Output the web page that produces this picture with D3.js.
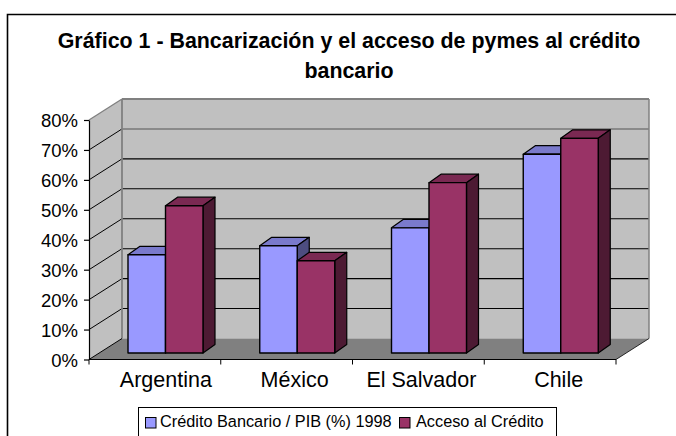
<!DOCTYPE html>
<html><head><meta charset="utf-8">
<style>html,body{margin:0;padding:0;background:#fff;overflow:hidden}svg{display:block}text{font-family:"Liberation Sans",Arial,sans-serif;fill:#000}</style>
<script src="https://cdn.jsdelivr.net/npm/d3@7"></script></head><body>
<svg id="c" width="676" height="436"></svg>
<script>
const titleLines = ["Gráfico 1 - Bancarización y el acceso de pymes al crédito", "bancario"];
const categories = ["Argentina", "México", "El Salvador", "Chile"];
const seriesNames = ["Crédito Bancario / PIB (%) 1998", "Acceso al Crédito"];
const creditoBancario = [32.8, 35.8, 41.8, 66.4];
const accesoCredito = [49.2, 30.8, 56.9, 71.7];
const yTicks = [0, 10, 20, 30, 40, 50, 60, 70, 80];
const colorsFront = ["#9999ff", "#993366"];
const colorsTop = ["#7a7acc", "#7a2952"];
const colorsSide = ["#4d4d80", "#4d1a33"];

const svg = d3.select("#c");
const X0 = 89, X1 = 616, Y0 = 359.5, Y80 = 120;
const wallDx = 33, wallDy = -21;
const barDx = 12, barDy = -8.5, barBaseDy = -6.5;
const labelNudge = [11, 8, 3, 8.5];

const x = d3.scaleBand().domain(categories).range([X0, X1]).paddingInner(0).paddingOuter(0);
const inner = d3.scaleBand().domain([0, 1]).range([39, 114]);
const y = d3.scaleLinear().domain([0, 80]).range([Y0, Y80]);
const poly = (pts, fill, stroke, sw) => svg.append("polygon")
  .attr("points", pts.map(p => p.join(",")).join(" "))
  .attr("fill", fill).attr("stroke", stroke || "none").attr("stroke-width", sw || 0).attr("stroke-linejoin", "round");
const line = (x1, y1, x2, y2, c, w) => svg.append("line").attr("x1", x1).attr("y1", y1).attr("x2", x2).attr("y2", y2).attr("stroke", c).attr("stroke-width", w);

// outer frame (runs off the right and bottom of the image)
svg.append("path").attr("d", "M7.5,436V14.5H676").attr("fill", "none").attr("stroke", "#000").attr("stroke-width", 1.6);

// title
svg.append("g").selectAll("text").data(titleLines).join("text")
  .attr("x", 349).attr("y", (d, i) => 47.5 + i * 30.5)
  .attr("text-anchor", "middle").attr("font-weight", "bold").attr("font-size", 21.4)
  .text(d => d);

// walls and floor
poly([[X0 + wallDx, y(80) + wallDy], [X1 + wallDx, y(80) + wallDy], [X1 + wallDx, y(0) + wallDy], [X0 + wallDx, y(0) + wallDy]], "#c0c0c0");
poly([[X0, y(80)], [X0 + wallDx, y(80) + wallDy], [X0 + wallDx, y(0) + wallDy], [X0, y(0)]], "#c0c0c0");
poly([[X0, y(0)], [X0 + wallDx, y(0) + wallDy], [X1 + wallDx, y(0) + wallDy], [X1, y(0)]], "#808080");

// gridlines
yTicks.slice(1, -1).forEach(t => {
  const c = t === 70 ? "#555" : "#000";
  line(X0 + wallDx, y(t) + wallDy, X1 + wallDx, y(t) + wallDy, c, 1.1);
  line(X0, y(t), X0 + wallDx, y(t) + wallDy, "#000", 1);
});
line(X0 + wallDx, y(80) + wallDy, X1 + wallDx, y(80) + wallDy, "#808080", 1.8);
line(X0, y(80), X0 + wallDx, y(80) + wallDy, "#808080", 1.3);
line(X0 + wallDx, y(80) + wallDy, X0 + wallDx, y(0) + wallDy, "#808080", 1.8);
line(X1 + wallDx, y(80) + wallDy, X1 + wallDx, y(0) + wallDy, "#808080", 1.5);
line(X0, y(0), X0 + wallDx, y(0) + wallDy, "#000", 1);
line(X1, y(0), X1 + wallDx, y(0) + wallDy, "#000", 0.8);

// bars
const series = [creditoBancario, accesoCredito];
categories.forEach((cat, ci) => {
  series.forEach((vals, si) => {
    const l = x(cat) + inner(si), r = l + inner.bandwidth();
    const b = y(0) + barBaseDy, t = y(vals[ci]) + barBaseDy;
    poly([[l, t], [l + barDx, t + barDy], [r + barDx, t + barDy], [r, t]], colorsTop[si], "#000", 1.2);
    poly([[r, t], [r + barDx, t + barDy], [r + barDx, b + barDy], [r, b]], colorsSide[si], "#000", 1.2);
    poly([[l, t], [r, t], [r, b], [l, b]], colorsFront[si], "#000", 1.4);
  });
});

// axes
const axL = svg.append("g").attr("transform", `translate(${X0},0)`)
  .call(d3.axisLeft(y).tickValues(yTicks).tickFormat(d => d + "%").tickSize(5).tickSizeOuter(0).tickPadding(6));
axL.selectAll("text").attr("font-size", 18.5).style("font-family", '"Liberation Sans",Arial,sans-serif').attr("dy", "0.36em");
axL.selectAll("line,path").attr("stroke", "#000").attr("stroke-width", 1.2);

const axB = svg.append("g").attr("transform", `translate(0,${Y0})`)
  .call(d3.axisBottom(x).tickSize(0).tickPadding(12));
axB.selectAll("text").attr("font-size", 21.5).attr("dx", (d, i) => labelNudge[i]).style("font-family", '"Liberation Sans",Arial,sans-serif').attr("dy", "0.71em");
axB.select("path").attr("stroke", "#000").attr("stroke-width", 1.2).attr("d", `M${X0},0H${X1}`);
[...categories.map(c => x(c)), X1].forEach(p => line(p, Y0, p, Y0 + 5, "#000", 1));

// legend
const lg = svg.append("g");
lg.append("rect").attr("x", 138.5).attr("y", 407.5).attr("width", 418).attr("height", 40).attr("fill", "#fff").attr("stroke", "#000").attr("stroke-width", 1);
const lgSwatch = [145.5, 399.5], lgText = [160, 416];
seriesNames.forEach((n, i) => {
  lg.append("rect").attr("x", lgSwatch[i]).attr("y", 417.5).attr("width", 10.5).attr("height", 10.5).attr("fill", colorsFront[i]).attr("stroke", "#000").attr("stroke-width", 1);
  lg.append("text").attr("x", lgText[i]).attr("y", 427).attr("font-size", 16.3).text(n);
});
</script></body></html>
